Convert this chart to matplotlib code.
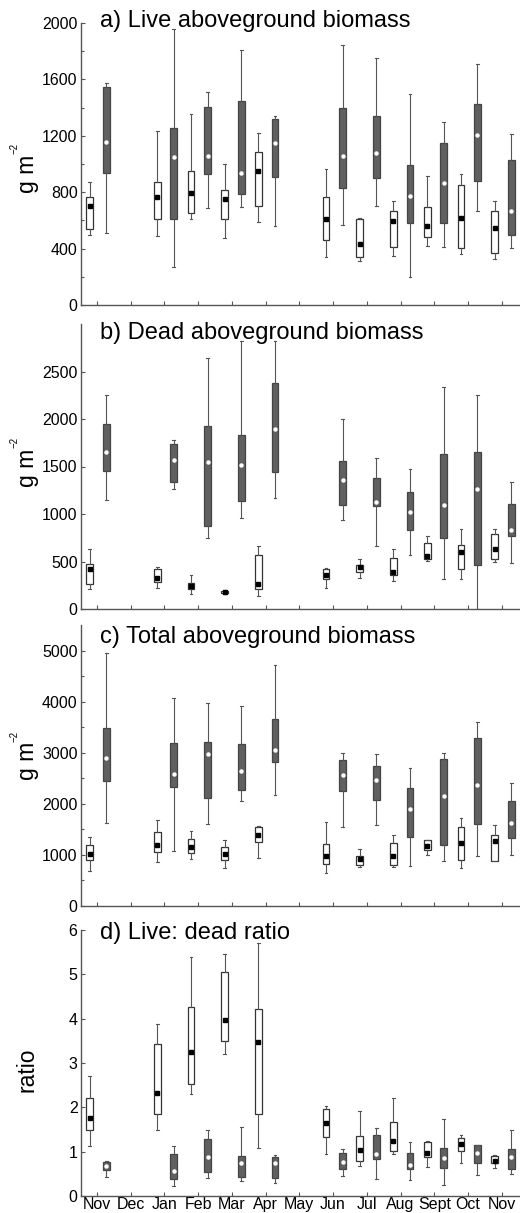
import numpy as np
import matplotlib
matplotlib.use('Agg')
import matplotlib.pyplot as plt

plt.rcParams['font.family'] = ['Liberation Sans', 'DejaVu Sans']

months = ['Nov', 'Dec', 'Jan', 'Feb', 'Mar', 'Apr', 'May', 'Jun', 'Jul',
          'Aug', 'Sept', 'Oct', 'Nov']
sampled = [0, 2, 3, 4, 5, 7, 8, 9, 10, 11, 12]  # month index of each sampling

# each entry: (lower whisker, q1, median, q3, upper whisker)
live_open = [(494, 539, 702, 764, 875), (489, 608, 764, 875, 1236),
             (610, 650, 797, 950, 1355), (478, 610, 752, 816, 998),
             (586, 702, 953, 1087, 1217), (338, 461, 610, 768, 965),
             (312, 343, 430, 608, 615), (348, 409, 598, 669, 738),
             (418, 485, 563, 693, 915), (359, 402, 619, 851, 927),
             (324, 366, 548, 669, 740)]
live_grey = [(508, 934, 1158, 1544, 1577), (272, 610, 1052, 1253, 1955),
             (690, 929, 1057, 1402, 1508), (693, 785, 939, 1449, 1808),
             (563, 910, 1147, 1317, 1340), (567, 827, 1057, 1395, 1844),
             (702, 898, 1076, 1343, 1749), (196, 584, 773, 993, 1494),
             (414, 584, 863, 1147, 1295), (667, 882, 1206, 1423, 1709),
             (407, 496, 669, 1028, 1213)]

dead_open = [(210, 266, 421, 473, 631), (221, 280, 326, 424, 442),
             (161, 214, 245, 273, 354), (155, 165, 175, 186, 196),
             (133, 210, 266, 564, 659), (221, 319, 361, 424, 431),
             (326, 389, 442, 466, 526), (291, 354, 386, 536, 631),
             (501, 526, 554, 694, 771), (316, 421, 600, 670, 841),
             (494, 526, 631, 789, 841)]
dead_grey = [(1143, 1455, 1648, 1949, 2254), (1266, 1332, 1571, 1739, 1781),
             (747, 869, 1543, 1928, 2640), (954, 1139, 1511, 1827, 2826),
             (1168, 1441, 1893, 2377, 2826), (940, 1090, 1360, 1560, 2002),
             (659, 1087, 1122, 1378, 1588), (571, 827, 1017, 1231, 1476),
             (319, 747, 1090, 1634, 2342), (0, 466, 1262, 1648, 2254),
             (484, 764, 834, 1104, 1332)]

total_open = [(688, 904, 1022, 1199, 1343), (858, 1055, 1199, 1442, 1691),
              (924, 1035, 1153, 1311, 1461), (740, 904, 1022, 1153, 1297),
              (937, 1252, 1383, 1540, 1560), (642, 826, 970, 1212, 1638),
              (773, 793, 924, 983, 1114), (754, 793, 970, 1232, 1383),
              (990, 1101, 1166, 1284, 1297), (740, 904, 1232, 1547, 1723),
              (872, 872, 1278, 1396, 1579)]
total_grey = [(1625, 2444, 2903, 3493, 4960), (1068, 2326, 2575, 3198, 4063),
              (1612, 2117, 2969, 3217, 3971), (2051, 2267, 2641, 3165, 3919),
              (2169, 2824, 3054, 3657, 4725), (1540, 2248, 2562, 2851, 2988),
              (1592, 2071, 2464, 2739, 2982), (786, 1350, 1907, 2313, 2706),
              (885, 1186, 2162, 2870, 2988), (970, 1612, 2359, 3296, 3604),
              (1003, 1330, 1625, 2064, 2398)]

ratio_open = [(1.13, 1.50, 1.77, 2.22, 2.71), (1.49, 1.85, 2.33, 3.43, 3.89),
              (2.29, 2.52, 3.24, 4.27, 5.38), (3.20, 3.50, 3.98, 5.05, 5.46),
              (1.08, 1.85, 3.47, 4.22, 5.71), (0.94, 1.32, 1.65, 1.96, 2.02),
              (0.68, 0.80, 1.04, 1.36, 1.92), (0.95, 1.02, 1.24, 1.66, 2.22),
              (0.65, 0.89, 0.98, 1.21, 1.25), (0.75, 1.02, 1.17, 1.30, 1.38),
              (0.64, 0.74, 0.80, 0.90, 0.92)]
ratio_grey = [(0.42, 0.59, 0.68, 0.76, 0.79), (0.23, 0.38, 0.56, 0.95, 1.13),
              (0.40, 0.55, 0.87, 1.28, 1.50), (0.34, 0.42, 0.74, 0.91, 1.55),
              (0.29, 0.40, 0.74, 0.89, 0.92), (0.45, 0.62, 0.77, 0.98, 1.05),
              (0.38, 0.83, 0.95, 1.38, 1.54), (0.35, 0.60, 0.70, 0.96, 1.21),
              (0.25, 0.64, 0.86, 1.09, 1.73), (0.47, 0.75, 0.98, 1.15, 1.15),
              (0.49, 0.60, 0.87, 1.06, 1.49)]

titles = ['a) Live aboveground biomass', 'b) Dead aboveground biomass',
          'c) Total aboveground biomass', 'd) Live: dead ratio']
ylabels = ['g m', 'g m', 'g m', 'ratio']
yticks = [[0, 400, 800, 1200, 1600, 2000], [0, 500, 1000, 1500, 2000, 2500],
          [0, 1000, 2000, 3000, 4000, 5000], [0, 1, 2, 3, 4, 5, 6]]
yminor = [np.arange(200, 2000, 400), [], np.arange(500, 5500, 1000), []]
ylims = [2000, 3000, 5500, 6]
panels = [(live_open, live_grey), (dead_open, dead_grey),
          (total_open, total_grey), (ratio_open, ratio_grey)]

# axes extents in pixels from the top (top, bottom)
rows = [(23, 305), (324, 609), (625, 906), (930, 1196)]
title_base = [27, 339, 643, 939]
label_y = [0.465, 0.495, 0.516, 0.474]

W, H = 520, 1213
fig = plt.figure(figsize=(W / 100, H / 100), dpi=100)

edge = '#444444'
grey = '#606060'


def to_stats(rows_):
    return [dict(whislo=r[0], q1=r[1], med=r[2], q3=r[3], whishi=r[4], fliers=[])
            for r in rows_]


for k, (open_s, grey_s) in enumerate(panels):
    t, b = rows[k]
    ax = fig.add_axes([81 / W, 1 - b / H, (W - 81) / W, (b - t) / H])
    pos_open = np.array(sampled) - 0.21
    pos_grey = np.array(sampled) + 0.28
    common = dict(widths=0.2, patch_artist=True, showfliers=False,
                  manage_ticks=False, capwidths=0.08,
                  whiskerprops=dict(color='#555555', lw=0.8),
                  capprops=dict(color='#555555', lw=0.8),
                  medianprops=dict(linewidth=0))
    ax.bxp(to_stats(open_s), positions=pos_open,
           boxprops=dict(facecolor='white', edgecolor='#333333', lw=0.9), **common)
    ax.bxp(to_stats(grey_s), positions=pos_grey,
           boxprops=dict(facecolor=grey, edgecolor=edge, lw=0.9), **common)
    ax.plot(pos_open, [s[2] for s in open_s], 's', color='black', ms=3.5, zorder=5)
    ax.plot(pos_grey, [s[2] for s in grey_s], 'o', mfc='white', mec='none', ms=3.2, zorder=5)

    ax.set_xlim(-0.47, 12.54)
    ax.set_ylim(0, ylims[k])
    ax.set_yticks(yticks[k])
    ax.set_yticks(yminor[k], minor=True)
    ax.set_xticks(range(len(months)))
    if k == 3:
        ax.set_xticklabels(months, fontsize=11.5)
    else:
        ax.set_xticklabels([])
    ax.tick_params(axis='y', labelsize=11.5)
    ax.tick_params(which='both', direction='in', length=3, width=0.8,
                   color='#555555', pad=2.5)
    ax.tick_params(axis='x', pad=1)
    ax.tick_params(which='minor', length=2)
    for side in ['top', 'right']:
        ax.spines[side].set_visible(False)
    for side in ['left', 'bottom']:
        ax.spines[side].set_color('#555555')
        ax.spines[side].set_linewidth(1.0)
    ax.set_ylabel(ylabels[k], fontsize=16.5)
    ax.yaxis.set_label_coords(-0.096, label_y[k])
    if k < 3:
        # tiny superscript of the unit, as in the original
        ax.text((14 - 81) / (W - 81), label_y[k] + 25 / (b - t), '\u22122',
                transform=ax.transAxes, rotation=90, fontsize=7,
                ha='center', va='center')
    fig.text(100 / W, 1 - title_base[k] / H, titles[k], fontsize=17, va='baseline')

fig.savefig('out.png', dpi=100)
